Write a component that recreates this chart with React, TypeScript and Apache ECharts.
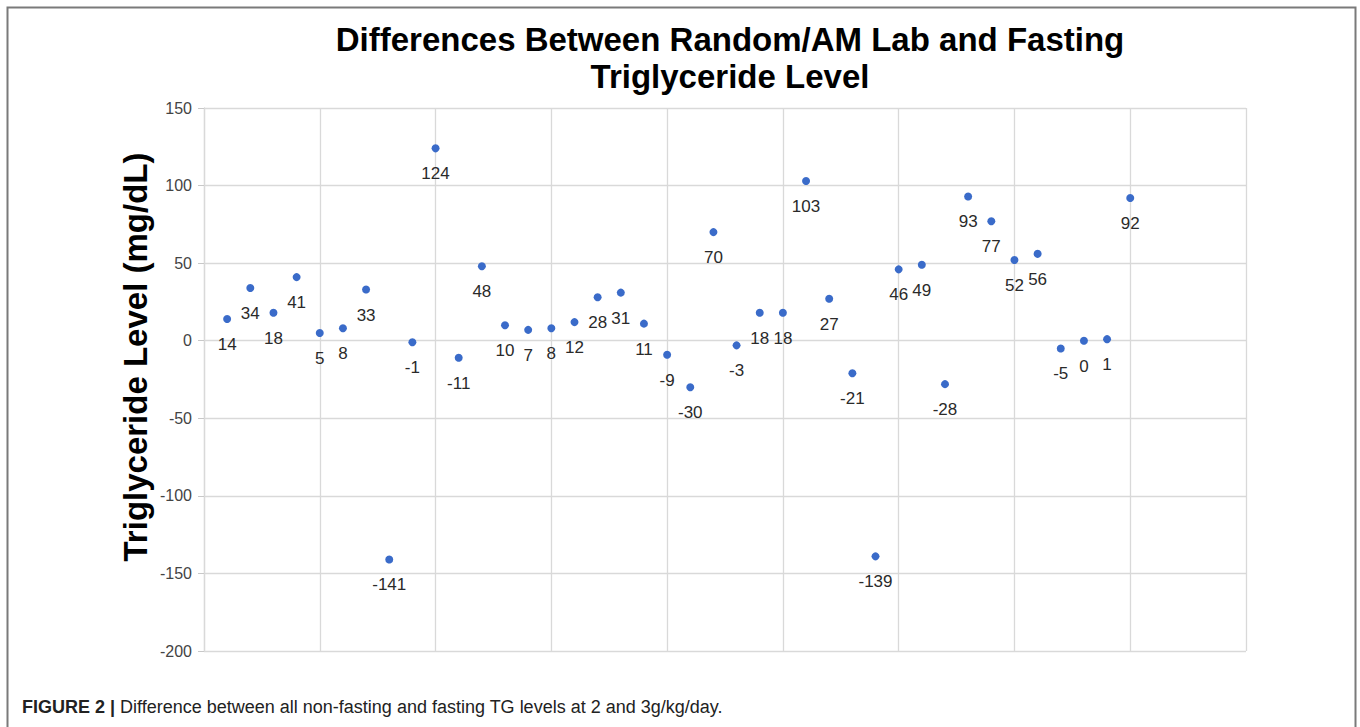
import React, { useEffect, useRef } from "react";
import * as echarts from "echarts";

const labels: number[] = [14, 34, 18, 41, 5, 8, 33, -141, -1, 124, -11, 48, 10, 7, 8, 12, 28, 31, 11, -9, -30, 70, -3, 18, 18, 103, 27, -21, -139, 46, 49, -28, 93, 77, 52, 56, -5, 0, 1, 92];
const yTicks = { min: -200, max: 150, interval: 50 };
const xRange = { min: 0, max: 45, interval: 5 };
const titleLines = ["Differences Between Random/AM Lab and Fasting", "Triglyceride Level"];
const yName = "Triglyceride Level (mg/dL)";
const captionBold = "FIGURE 2 |";
const captionText = " Difference between all non-fasting and fasting TG levels at 2 and 3g/kg/day.";

const FONT = "Liberation Sans, Arial, sans-serif";

export default function App() {
  const ref = useRef<HTMLDivElement>(null);
  useEffect(() => {
    document.body.style.margin = "0";
    const chart = echarts.init(ref.current!, null, { renderer: "svg" });
    const data = labels.map((v, i) => [i + 1, v]);
    chart.setOption({
      animation: false,
      backgroundColor: "#fff",
      textStyle: { fontFamily: FONT },
      grid: { left: 204, right: 114, top: 108, bottom: 76, containLabel: false },
      xAxis: {
        type: "value",
        min: xRange.min,
        max: xRange.max,
        interval: xRange.interval,
        axisLabel: { show: false },
        axisTick: { show: false },
        axisLine: { show: false },
        splitLine: { show: true, lineStyle: { color: "#d9d9d9", width: 1.3 } },
      },
      yAxis: {
        type: "value",
        min: yTicks.min,
        max: yTicks.max,
        interval: yTicks.interval,
        axisLine: { show: true, lineStyle: { color: "#d9d9d9", width: 1.3 } },
        axisTick: { show: true, length: 6, lineStyle: { color: "#c8c8c8" } },
        axisLabel: { color: "#444", fontSize: 16, margin: 12 },
        splitLine: { show: true, lineStyle: { color: "#d9d9d9", width: 1.3 } },
      },
      series: [
        {
          type: "scatter",
          data,
          symbolSize: 8,
          itemStyle: { color: "#3a6bc9", opacity: 1 },
          label: {
            show: true,
            position: "bottom",
            distance: 13,
            color: "#2a2a2a",
            fontSize: 17,
            formatter: (p: any) => String(p.value[1]),
          },
        },
      ],
      graphic: [
        {
          type: "rect",
          shape: { x: 7.5, y: 7.5, width: 1348, height: 740 },
          style: { fill: "none", stroke: "#7a7a7a", lineWidth: 2 },
          silent: true,
        },
        {
          type: "text",
          x: 730,
          y: 21,
          style: {
            text: titleLines.join("\n"),
            fontSize: 33,
            fontWeight: "bold",
            fill: "#000",
            align: "center",
            verticalAlign: "top",
            lineHeight: 37,
            fontFamily: FONT,
          },
        },
        {
          type: "text",
          x: 135,
          y: 357,
          rotation: Math.PI / 2,
          style: {
            text: yName,
            fontSize: 33,
            fontWeight: "bold",
            fill: "#000",
            align: "center",
            verticalAlign: "middle",
            fontFamily: FONT,
          },
        },
        {
          type: "text",
          x: 22,
          y: 707,
          style: {
            text: `{b|${captionBold}}{n|${captionText}}`,
            verticalAlign: "middle",
            rich: {
              b: { fontSize: 18, fontWeight: "bold", fill: "#222", fontFamily: FONT },
              n: { fontSize: 18, fill: "#222", fontFamily: FONT },
            },
          },
        },
      ],
    });
    return () => chart.dispose();
  }, []);
  return <div ref={ref} style={{ width: 1360, height: 727 }} />;
}
